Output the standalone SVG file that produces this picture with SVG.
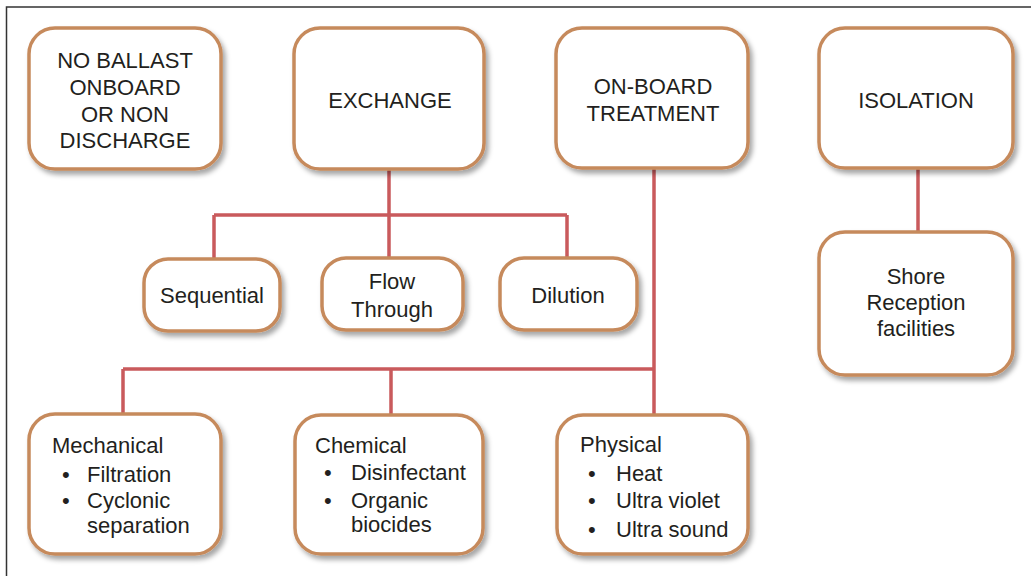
<svg xmlns="http://www.w3.org/2000/svg" width="1031" height="576" viewBox="0 0 1031 576">
<defs>
<filter id="sh" x="-10%" y="-10%" width="125%" height="130%">
<feDropShadow dx="3" dy="4" stdDeviation="2.5" flood-color="#000" flood-opacity="0.35"/>
</filter>
<style>
.box{fill:#fff;stroke:#c68a5c;stroke-width:3.5;filter:url(#sh)}
.t{font-family:"Liberation Sans",Arial,sans-serif;font-size:22px;fill:#231f20}
.c{text-anchor:middle}
.ln{stroke:#c95a5c;stroke-width:3.5;fill:none}
</style>
</defs>
<rect width="1031" height="576" fill="#fff"/>
<path d="M6.5 576 V7 H1031" fill="none" stroke="#333" stroke-width="1.5"/>
<g id="connectors">
<path class="ln" d="M389 168 V215 M214 215 H567 M214 215 V260 M389 215 V259 M567 215 V259"/>
<path class="ln" d="M654 168 V415 M123 369 H654 M123 369 V414 M391 369 V415"/>
<path class="ln" d="M918 168 V232"/>
</g>
<g id="n1"><rect class="box" x="29" y="28" width="192" height="141" rx="26"/>
<text class="t c" x="125" y="68">NO BALLAST</text><text class="t c" x="125" y="95">ONBOARD</text><text class="t c" x="125" y="122">OR NON</text><text class="t c" x="125" y="148">DISCHARGE</text></g>
<g id="n2"><rect class="box" x="294" y="28" width="190" height="141" rx="26"/>
<text class="t c" x="390" y="108">EXCHANGE</text></g>
<g id="n3"><rect class="box" x="556" y="28" width="192" height="140" rx="26"/>
<text class="t c" x="653" y="94">ON-BOARD</text><text class="t c" x="653" y="121">TREATMENT</text></g>
<g id="n4"><rect class="box" x="819" y="28" width="194" height="140" rx="26"/>
<text class="t c" x="916" y="108">ISOLATION</text></g>
<g id="n5"><rect class="box" x="144" y="259" width="136" height="72" rx="24"/>
<text class="t c" x="212" y="303">Sequential</text></g>
<g id="n6"><rect class="box" x="322" y="258" width="141" height="72" rx="24"/>
<text class="t c" x="392" y="289">Flow</text><text class="t c" x="392" y="317">Through</text></g>
<g id="n7"><rect class="box" x="500" y="258" width="137" height="72" rx="24"/>
<text class="t c" x="568" y="303">Dilution</text></g>
<g id="n8"><rect class="box" x="819" y="232" width="194" height="143" rx="26"/>
<text class="t c" x="916" y="284">Shore</text><text class="t c" x="916" y="310">Reception</text><text class="t c" x="916" y="336">facilities</text></g>
<g id="n9"><rect class="box" x="29" y="414" width="192" height="140" rx="26"/>
<text class="t" x="52" y="453">Mechanical</text>
<text class="t" x="62" y="482">•</text><text class="t" x="87" y="482">Filtration</text>
<text class="t" x="62" y="508">•</text><text class="t" x="87" y="508">Cyclonic</text>
<text class="t" x="87" y="533">separation</text></g>
<g id="n10"><rect class="box" x="295" y="415" width="188" height="139" rx="26"/>
<text class="t" x="315" y="453">Chemical</text>
<text class="t" x="324" y="480">•</text><text class="t" x="351" y="480">Disinfectant</text>
<text class="t" x="324" y="508">•</text><text class="t" x="351" y="508">Organic</text>
<text class="t" x="351" y="532">biocides</text></g>
<g id="n11"><rect class="box" x="557" y="415" width="191" height="139" rx="26"/>
<text class="t" x="580" y="452">Physical</text>
<text class="t" x="588" y="481">•</text><text class="t" x="616" y="481">Heat</text>
<text class="t" x="588" y="508">•</text><text class="t" x="616" y="508">Ultra violet</text>
<text class="t" x="588" y="537">•</text><text class="t" x="616" y="537">Ultra sound</text></g>
</svg>
